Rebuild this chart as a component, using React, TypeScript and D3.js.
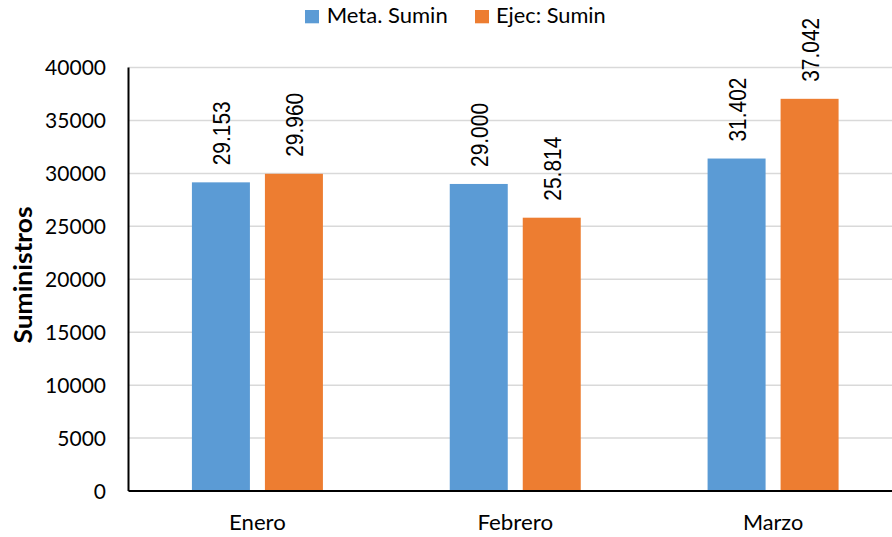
import React from "react";
import * as d3 from "d3";

const categories = ["Enero", "Febrero", "Marzo"];
const seriesNames = ["Meta. Sumin", "Ejec: Sumin"];
const metaValues = [29153, 29000, 31402];
const ejecValues = [29960, 25814, 37042];
const labelMeta = ["29.153", "29.000", "31.402"];
const labelEjec = ["29.960", "25.814", "37.042"];
const yTicks = [0, 5000, 10000, 15000, 20000, 25000, 30000, 35000, 40000];
const colors = ["#5B9BD5", "#ED7D31"];

const W = 892;
const H = 537;
const plotLeft = 128.5;
const plotRight = 902;
const plotTop = 67.5;
const plotBottom = 491;

export default function App() {
  const x = d3.scaleBand<string>().domain(categories).range([plotLeft, plotRight]).padding(0);
  const y = d3.scaleLinear().domain([0, 40000]).range([plotBottom, plotTop]);
  const groupW = 131;
  const xs = d3.scaleBand<string>().domain(seriesNames).range([0, groupW]).paddingInner(0.2055).paddingOuter(0);
  const series = [
    { name: seriesNames[0], values: metaValues, labels: labelMeta, color: colors[0] },
    { name: seriesNames[1], values: ejecValues, labels: labelEjec, color: colors[1] },
  ];
  const font = "Lato, 'Open Sans', sans-serif";
  const legend = [
    { name: seriesNames[0], sq: 305, tx: 326.7, len: 121, color: colors[0] },
    { name: seriesNames[1], sq: 475, tx: 496, len: 109.7, color: colors[1] },
  ];
  return (
    <svg width={W} height={H} style={{ position: "absolute", left: 0, top: 0, background: "#fff" }}>
      <rect x={0} y={0} width={W} height={H} fill="#fff" />
      {yTicks.map((t) => (
        <g key={t}>
          {t > 0 && (
            <line x1={plotLeft} x2={W} y1={y(t)} y2={y(t)} stroke="#d9d9d9" strokeWidth={1.5} />
          )}
          <text x={106} y={y(t)} dy="0.36em" textAnchor="end" fontFamily={font} fontSize={21} fill="#000">
            {t}
          </text>
        </g>
      ))}
      {series.map((s) =>
        categories.map((c, i) => {
          const bx = (x(c) as number) + x.bandwidth() / 2 - groupW / 2 + (xs(s.name) as number);
          const bw = xs.bandwidth();
          const top = y(s.values[i]);
          const cx = bx + bw / 2;
          return (
            <g key={s.name + c}>
              <rect x={bx} y={top} width={bw} height={plotBottom - top} fill={s.color} />
              <text
                transform={`translate(${cx + 9.5},${top - 17}) rotate(-90)`}
                textAnchor="start"
                fontFamily="'Liberation Sans', Arial, sans-serif"
                fontSize={23.5}
                textLength={64}
                lengthAdjust="spacingAndGlyphs"
                fill="#000"
              >
                {s.labels[i]}
              </text>
            </g>
          );
        })
      )}
      <line x1={plotLeft} x2={plotLeft} y1={plotTop} y2={plotBottom} stroke="#000" strokeWidth={2} />
      <line x1={plotLeft} x2={W} y1={plotBottom} y2={plotBottom} stroke="#000" strokeWidth={2} />
      {categories.map((c, i) => (
        <text
          key={c}
          x={(x(c) as number) + x.bandwidth() / 2}
          y={530}
          textAnchor="middle"
          fontFamily={font}
          fontSize={21}
          textLength={[56.7, 75.7, 60.3][i]}
          lengthAdjust="spacingAndGlyphs"
          fill="#000"
        >
          {c}
        </text>
      ))}
      <text
        transform={`translate(32,275) rotate(-90)`}
        textAnchor="middle"
        fontFamily={font}
        fontWeight="bold"
        fontSize={24}
        textLength={137}
        lengthAdjust="spacingAndGlyphs"
        fill="#000"
      >
        Suministros
      </text>
      {legend.map((l) => (
        <g key={l.name}>
          <rect x={l.sq} y={10} width={14} height={13.3} fill={l.color} />
          <text
            x={l.tx}
            y={23.3}
            fontFamily={font}
            fontSize={21}
            textLength={l.len}
            lengthAdjust="spacingAndGlyphs"
            fill="#000"
          >
            {l.name}
          </text>
        </g>
      ))}
    </svg>
  );
}
